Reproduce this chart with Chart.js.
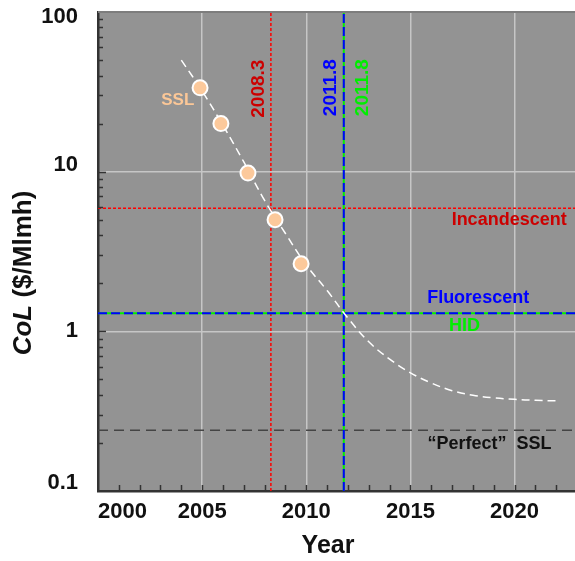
<!DOCTYPE html>
<html>
<head>
<meta charset="utf-8">
<script src="https://cdn.jsdelivr.net/npm/chart.js@4.4.0/dist/chart.umd.min.js"></script>
<style>
  body { margin: 0; background: #fff; }
  canvas { display: block; }
</style>
</head>
<body>
<canvas id="chart" width="575" height="561"></canvas>
<script>
// SSL cost of light, measured points
const sslYears = [2004.9, 2005.9, 2007.2, 2008.5, 2009.75];
const sslCol = [33.5, 20, 9.8, 5.0, 2.65];

// fitted trend (white dashed)
const trendYears = [2004, 2005, 2006, 2007, 2008, 2009, 2010, 2011, 2012, 2013, 2014, 2015, 2016, 2017, 2018, 2019, 2020, 2021, 2022];
const trendCol = [50, 32, 19.5, 11.5, 6.6, 4.1, 2.6, 1.8, 1.21, 0.86, 0.67, 0.55, 0.475, 0.425, 0.398, 0.383, 0.375, 0.37, 0.367];

// competing technologies
const incandescentCol = 5.9;
const fluorescentCol = 1.3;
const hidCol = 1.3;
const perfectCol = 0.24;
const crossIncandescent = 2008.3;
const crossFluorescent = 2011.8;
const crossHid = 2011.8;

// axes
const xMin = 2000, xMax = 2022.9;
const yMin = 0.1, yMax = 100;
const xTicks = [2000, 2005, 2010, 2015, 2020];
const yTicks = [0.1, 1, 10, 100];
const yTickLabels = ['0.1', '1', '10', '100'];

const FONT = "'Liberation Sans', Arial, Helvetica, sans-serif";
const GRID = '#c6c6c6';
const AXIS = '#333333';
// the y labels sit a little off their ticks in the original
const yLabelShift = [-8, 0, -7, 5];

function hline(v, color, dash, width) {
  return {
    data: [{ x: xMin, y: v }, { x: xMax, y: v }],
    borderColor: color, borderDash: dash, borderWidth: width,
    pointRadius: 0, fill: false
  };
}
function vline(v, color, dash, width) {
  return {
    data: [{ x: v, y: yMin }, { x: v, y: yMax }],
    borderColor: color, borderDash: dash, borderWidth: width,
    pointRadius: 0, fill: false
  };
}
function noPad(s) {
  s.paddingTop = 0; s.paddingBottom = 0; s.paddingLeft = 0; s.paddingRight = 0;
}

// background, frame, inside ticks, texts
const decor = {
  id: 'decor',
  beforeDraw(chart) {
    const { ctx, chartArea: a } = chart;
    ctx.save();
    ctx.fillStyle = '#939393';
    ctx.fillRect(a.left, a.top, a.right - a.left, a.bottom - a.top);
    ctx.restore();
  },
  afterDraw(chart) {
    const { ctx, chartArea: a, scales: { x, y } } = chart;
    ctx.save();
    // top frame
    ctx.strokeStyle = '#7d7d7d';
    ctx.lineWidth = 2;
    ctx.beginPath();
    ctx.moveTo(a.left, a.top);
    ctx.lineTo(a.right, a.top);
    ctx.stroke();

    // minor ticks, inside
    ctx.strokeStyle = AXIS;
    ctx.lineWidth = 1.5;
    ctx.beginPath();
    for (let d = -1; d < 2; d++) {
      for (let k = 1; k < 10; k++) {
        const v = k * Math.pow(10, d);
        if (v <= yMin || v >= yMax) continue;
        const py = Math.round(y.getPixelForValue(v)) + 0.5;
        const len = k === 1 ? 8 : 5;
        ctx.moveTo(a.left, py);
        ctx.lineTo(a.left + len, py);
      }
    }
    for (let yr = 2001; yr < xMax; yr++) {
      const px = Math.round(x.getPixelForValue(yr)) + 0.5;
      ctx.moveTo(px, a.bottom);
      ctx.lineTo(px, a.bottom - 6);
    }
    ctx.stroke();

    // y tick labels
    ctx.font = 'bold 22px ' + FONT;
    ctx.fillStyle = '#111';
    ctx.textAlign = 'right';
    ctx.textBaseline = 'middle';
    yTicks.forEach((v, i) => {
      ctx.fillText(yTickLabels[i], a.left - 20, y.getPixelForValue(v) + yLabelShift[i]);
    });

    // labels in the plot
    const txt = (s, xv, yv, color, size, align, rot) => {
      ctx.save();
      ctx.translate(x.getPixelForValue(xv), y.getPixelForValue(yv));
      if (rot) ctx.rotate(rot);
      ctx.font = 'bold ' + size + 'px ' + FONT;
      ctx.fillStyle = color;
      ctx.textAlign = align;
      ctx.textBaseline = 'middle';
      ctx.fillText(s, 0, 0);
      ctx.restore();
    };
    txt('Incandescent', 2022.5, 5.0, '#cc0000', 18, 'right');
    txt('Fluorescent', 2018.25, 1.61, '#0000ff', 18, 'center');
    txt('HID', 2017.6, 1.08, '#00ee00', 18, 'center');
    txt('\u201cPerfect\u201d  SSL', 2018.8, 0.196, '#111111', 18, 'center');
    txt('SSL', 2003.83, 27.9, '#fbc797', 17, 'center');
    txt('2008.3', 2007.74, 33.1, '#cc0000', 19, 'center', -Math.PI / 2);
    txt('2011.8', 2011.18, 33.6, '#0000ff', 19, 'center', -Math.PI / 2);
    txt('2011.8', 2012.69, 33.6, '#00ee00', 19, 'center', -Math.PI / 2);

    // axis titles
    ctx.fillStyle = '#111';
    ctx.textBaseline = 'middle';
    ctx.font = 'bold 25px ' + FONT;
    ctx.textAlign = 'center';
    ctx.fillText('Year', 328, 546);

    ctx.save();
    ctx.translate(24, 273);
    ctx.rotate(-Math.PI / 2);
    const p1 = 'CoL';
    const p2 = ' ($/Mlmh)';
    ctx.font = 'bold 26px ' + FONT;
    const w2 = ctx.measureText(p2).width;
    ctx.font = 'italic bold 26px ' + FONT;
    const w1 = ctx.measureText(p1).width;
    const start = -(w1 + w2) / 2;
    ctx.textAlign = 'left';
    ctx.fillText(p1, start, 0);
    ctx.font = 'bold 26px ' + FONT;
    ctx.fillText(p2, start + w1, 0);
    ctx.restore();

    ctx.restore();
  }
};

const ctx = document.getElementById('chart').getContext('2d');
new Chart(ctx, {
  type: 'line',
  data: {
    // first dataset is drawn on top
    datasets: [
      {
        data: sslYears.map((yr, i) => ({ x: yr, y: sslCol[i] })),
        showLine: false,
        pointRadius: 7.5, pointBorderWidth: 2,
        pointBackgroundColor: '#fcc99b', pointBorderColor: '#ffffff'
      },
      {
        data: trendYears.map((yr, i) => ({ x: yr, y: trendCol[i] })),
        borderColor: '#ffffff', borderDash: [8, 5], borderWidth: 1.5,
        pointRadius: 0, tension: 0.4, fill: false
      },
      hline(fluorescentCol, '#0000ff', [9, 4], 2),
      vline(crossFluorescent, '#0000ff', [9, 4], 2),
      hline(hidCol, '#00ee00', [], 2),
      vline(crossHid, '#00ee00', [], 2),
      hline(incandescentCol, '#ff0000', [3, 2], 1.5),
      vline(crossIncandescent, '#ff0000', [3, 2], 1.5),
      hline(perfectCol, '#444444', [10, 6], 1.5)
    ]
  },
  options: {
    responsive: false,
    animation: false,
    layout: { autoPadding: false, padding: { top: 12, right: 0, left: 0, bottom: 0 } },
    plugins: { legend: { display: false }, tooltip: { enabled: false } },
    scales: {
      x: {
        type: 'linear', min: xMin, max: xMax,
        afterFit: s => { s.height = 70; noPad(s); },
        afterBuildTicks: s => { s.ticks = xTicks.concat([xMax]).map(v => ({ value: v })); },
        ticks: {
          align: 'inner', padding: 8,
          color: '#111', font: { family: FONT, size: 22, weight: 'bold' },
          maxRotation: 0, autoSkip: false,
          callback: v => (xTicks.includes(v) ? String(v) : '')
        },
        grid: {
          drawTicks: false,
          color: c => (c.tick && c.tick.value > xMin && xTicks.includes(c.tick.value) ? GRID : 'rgba(0,0,0,0)'),
          lineWidth: 1.5
        },
        border: { color: AXIS, width: 2.5 }
      },
      y: {
        type: 'logarithmic', min: yMin, max: yMax,
        afterFit: s => { s.width = 98; noPad(s); },
        afterBuildTicks: s => { s.ticks = yTicks.map(v => ({ value: v })); },
        ticks: { display: false },
        grid: {
          drawTicks: false,
          color: c => (c.tick && (c.tick.value === 1 || c.tick.value === 10) ? GRID : 'rgba(0,0,0,0)'),
          lineWidth: 1.5
        },
        border: { color: AXIS, width: 2.5 }
      }
    }
  },
  plugins: [decor]
});
</script>
</body>
</html>
